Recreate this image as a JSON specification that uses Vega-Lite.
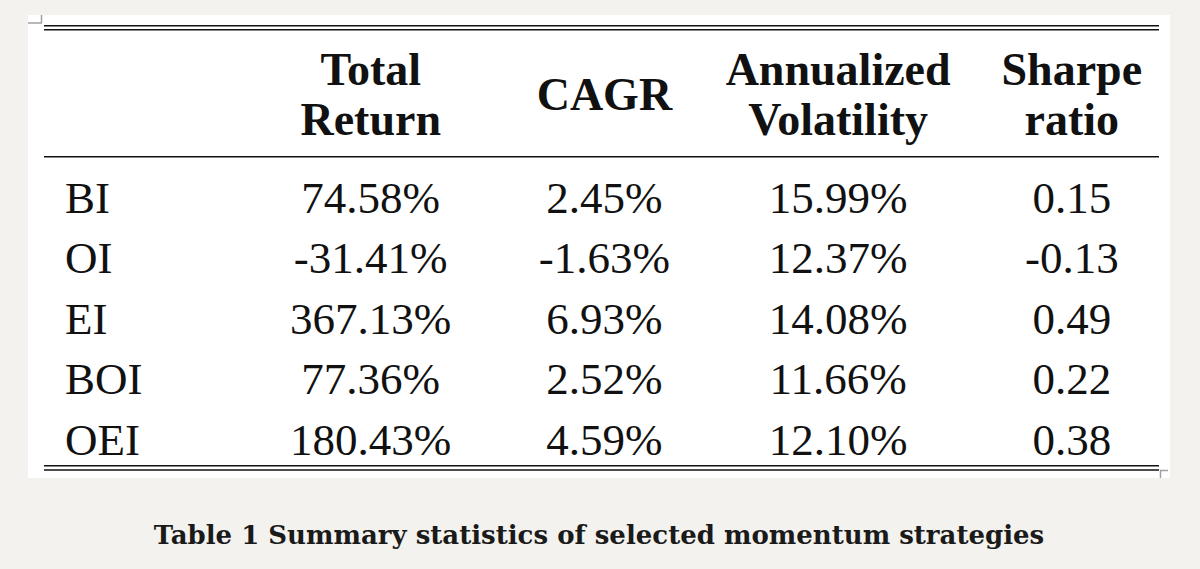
{
  "$schema": "https://vega.github.io/schema/vega-lite/v6.json",
  "width": 1142,
  "height": 463,
  "padding": {"left": 28, "top": 15, "right": 30, "bottom": 91},
  "autosize": {"type": "none"},
  "background": "#f3f2ee",
  "view": {"fill": "white", "stroke": null},
  "title": {
    "text": "Table 1 Summary statistics of selected momentum strategies",
    "orient": "bottom",
    "anchor": "middle",
    "offset": 65,
    "baseline": "alphabetic",
    "font": "DejaVu Serif",
    "fontSize": 26,
    "fontWeight": "bold",
    "color": "#1a1a1a"
  },
  "data": {
    "values": [
      {"Strategy": "BI", "Total Return": "74.58%", "CAGR": "2.45%", "Annualized Volatility": "15.99%", "Sharpe ratio": "0.15"},
      {"Strategy": "OI", "Total Return": "-31.41%", "CAGR": "-1.63%", "Annualized Volatility": "12.37%", "Sharpe ratio": "-0.13"},
      {"Strategy": "EI", "Total Return": "367.13%", "CAGR": "6.93%", "Annualized Volatility": "14.08%", "Sharpe ratio": "0.49"},
      {"Strategy": "BOI", "Total Return": "77.36%", "CAGR": "2.52%", "Annualized Volatility": "11.66%", "Sharpe ratio": "0.22"},
      {"Strategy": "OEI", "Total Return": "180.43%", "CAGR": "4.59%", "Annualized Volatility": "12.10%", "Sharpe ratio": "0.38"}
    ]
  },
  "layer": [
    {
      "transform": [{"fold": ["Total Return", "CAGR", "Annualized Volatility", "Sharpe ratio"], "as": ["col", "value"]}],
      "mark": {"type": "text", "font": "Liberation Serif", "fontSize": 45, "align": "center", "baseline": "alphabetic", "color": "#111111"},
      "encoding": {
        "x": {"field": "col", "type": "nominal", "scale": {"type": "point", "domain": ["Strategy", "Total Return", "CAGR", "Annualized Volatility", "Sharpe ratio"], "range": [109, 1043.8], "padding": 0}, "axis": null},
        "y": {"field": "Strategy", "type": "nominal", "scale": {"type": "point", "domain": ["BI", "OI", "EI", "BOI", "OEI"], "range": [197.5, 439.5], "padding": 0}, "axis": null},
        "text": {"field": "value", "type": "nominal"}
      }
    },
    {
      "mark": {"type": "text", "font": "Liberation Serif", "fontSize": 45, "align": "left", "dx": -72, "baseline": "alphabetic", "color": "#111111"},
      "encoding": {
        "x": {"datum": "Strategy", "type": "nominal"},
        "y": {"field": "Strategy", "type": "nominal"},
        "text": {"field": "Strategy", "type": "nominal"}
      }
    },
    {
      "data": {"values": [{"col": "Total Return"}, {"col": "Annualized Volatility"}, {"col": "Sharpe ratio"}]},
      "mark": {"type": "text", "font": "Liberation Serif", "fontSize": 46, "fontWeight": "bold", "align": "center", "baseline": "alphabetic", "lineBreak": " ", "lineHeight": 50, "yOffset": -127.5, "color": "#111111"},
      "encoding": {
        "x": {"field": "col", "type": "nominal"},
        "y": {"datum": "BI", "type": "nominal"},
        "text": {"field": "col", "type": "nominal"}
      }
    },
    {
      "data": {"values": [{"col": "CAGR"}]},
      "mark": {"type": "text", "font": "Liberation Serif", "fontSize": 46, "fontWeight": "bold", "align": "center", "baseline": "alphabetic", "yOffset": -102.5, "color": "#111111"},
      "encoding": {
        "x": {"field": "col", "type": "nominal"},
        "y": {"datum": "BI", "type": "nominal"},
        "text": {"field": "col", "type": "nominal"}
      }
    },
    {
      "data": {"values": [{}]},
      "mark": {"type": "rule", "xOffset": -93, "x2Offset": 87.2, "yOffset": -186.8, "strokeWidth": 1.6, "color": "#111111"},
      "encoding": {"x": {"datum": "Strategy", "type": "nominal"}, "x2": {"datum": "Sharpe ratio"}, "y": {"datum": "BI", "type": "nominal"}}
    },
    {
      "data": {"values": [{}]},
      "mark": {"type": "rule", "xOffset": -93, "x2Offset": 87.2, "yOffset": -182.8, "strokeWidth": 1.6, "color": "#111111"},
      "encoding": {"x": {"datum": "Strategy", "type": "nominal"}, "x2": {"datum": "Sharpe ratio"}, "y": {"datum": "BI", "type": "nominal"}}
    },
    {
      "data": {"values": [{}]},
      "mark": {"type": "rule", "xOffset": -93, "x2Offset": 87.2, "yOffset": -55.8, "strokeWidth": 1.6, "color": "#111111"},
      "encoding": {"x": {"datum": "Strategy", "type": "nominal"}, "x2": {"datum": "Sharpe ratio"}, "y": {"datum": "BI", "type": "nominal"}}
    },
    {
      "data": {"values": [{}]},
      "mark": {"type": "rule", "xOffset": -93, "x2Offset": 87.2, "yOffset": 11.2, "strokeWidth": 1.6, "color": "#111111"},
      "encoding": {"x": {"datum": "Strategy", "type": "nominal"}, "x2": {"datum": "Sharpe ratio"}, "y": {"datum": "OEI", "type": "nominal"}}
    },
    {
      "data": {"values": [{}]},
      "mark": {"type": "rule", "xOffset": -93, "x2Offset": 87.2, "yOffset": 15.5, "strokeWidth": 1.6, "color": "#111111"},
      "encoding": {"x": {"datum": "Strategy", "type": "nominal"}, "x2": {"datum": "Sharpe ratio"}, "y": {"datum": "OEI", "type": "nominal"}}
    },
    {
      "data": {"values": [{}]},
      "mark": {"type": "rule", "xOffset": -109, "x2Offset": -95, "yOffset": -189.5, "strokeWidth": 1.5, "color": "#a0a0a0"},
      "encoding": {"x": {"datum": "Strategy", "type": "nominal"}, "x2": {"datum": "Strategy"}, "y": {"datum": "BI", "type": "nominal"}}
    },
    {
      "data": {"values": [{}]},
      "mark": {"type": "rule", "xOffset": -95.5, "yOffset": -197.5, "y2Offset": -189.5, "strokeWidth": 1.5, "color": "#a0a0a0"},
      "encoding": {"x": {"datum": "Strategy", "type": "nominal"}, "y": {"datum": "BI", "type": "nominal"}, "y2": {"datum": "BI"}}
    },
    {
      "data": {"values": [{}]},
      "mark": {"type": "rule", "xOffset": 88.2, "x2Offset": 96.2, "yOffset": 16, "strokeWidth": 1.5, "color": "#a0a0a0"},
      "encoding": {"x": {"datum": "Sharpe ratio", "type": "nominal"}, "x2": {"datum": "Sharpe ratio"}, "y": {"datum": "OEI", "type": "nominal"}}
    },
    {
      "data": {"values": [{}]},
      "mark": {"type": "rule", "xOffset": 88.7, "yOffset": 16, "y2Offset": 23.5, "strokeWidth": 1.5, "color": "#a0a0a0"},
      "encoding": {"x": {"datum": "Sharpe ratio", "type": "nominal"}, "y": {"datum": "OEI", "type": "nominal"}, "y2": {"datum": "OEI"}}
    }
  ]
}
